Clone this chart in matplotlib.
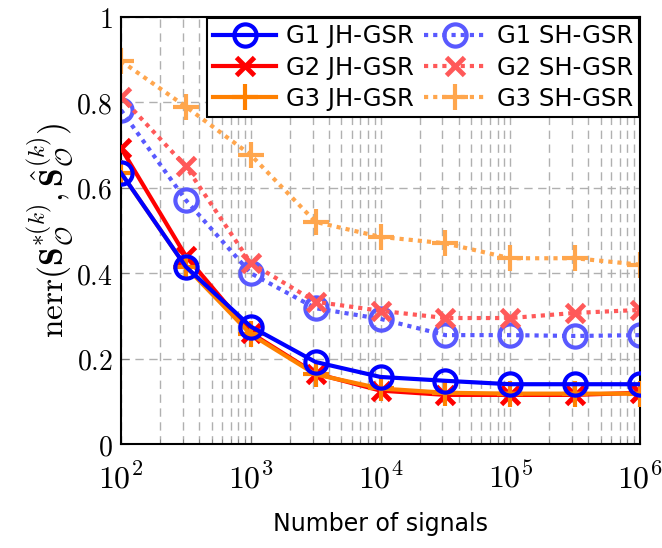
import matplotlib
matplotlib.use('Agg')
import matplotlib.pyplot as plt
import matplotlib.ticker as ticker
import numpy as np

plt.rcParams['mathtext.fontset'] = 'cm'
plt.rcParams['font.family'] = 'DejaVu Sans'

# number of signals
n_signals = [1e2, 10**2.5, 1e3, 10**3.5, 1e4, 10**4.5, 1e5, 10**5.5, 1e6]

g1_jh = [0.635, 0.415, 0.275, 0.192, 0.157, 0.148, 0.140, 0.140, 0.140]
g2_jh = [0.693, 0.440, 0.260, 0.165, 0.125, 0.115, 0.115, 0.115, 0.120]
g3_jh = [0.635, 0.415, 0.257, 0.163, 0.130, 0.120, 0.118, 0.118, 0.118]
g1_sh = [0.782, 0.571, 0.400, 0.318, 0.293, 0.255, 0.255, 0.253, 0.255]
g2_sh = [0.813, 0.650, 0.424, 0.333, 0.312, 0.295, 0.295, 0.307, 0.314]
g3_sh = [0.897, 0.790, 0.677, 0.520, 0.485, 0.470, 0.435, 0.435, 0.420]

blue = '#0000ff'
red = '#ff0000'
orange = '#ff8000'
lblue = '#5959ff'
lred = '#ff5959'
lorange = '#ffa64d'

fig = plt.figure(figsize=(6.62, 5.48), dpi=100)
ax = fig.add_axes([121 / 662, 1 - 444 / 548, (640 - 121) / 662, (444 - 17) / 548])

lw = 3.0
dots = (0, (1, 1.2))
ax.plot(n_signals, g1_jh, color=blue, lw=lw, marker='o', ms=16, mfc='none', mew=3, label='G1 JH-GSR', zorder=5)
ax.plot(n_signals, g2_jh, color=red, lw=lw, marker='x', ms=13, mew=3.5, label='G2 JH-GSR', zorder=4)
ax.plot(n_signals, g3_jh, color=orange, lw=lw, marker='+', ms=19, mew=3, label='G3 JH-GSR', zorder=4)
ax.plot(n_signals, g1_sh, color=lblue, lw=lw, ls=dots, marker='o', ms=16, mfc='none', mew=3, label='G1 SH-GSR')
ax.plot(n_signals, g2_sh, color=lred, lw=lw, ls=dots, marker='x', ms=13, mew=3.5, label='G2 SH-GSR')
ax.plot(n_signals, g3_sh, color=lorange, lw=lw, ls=dots, marker='+', ms=19, mew=3, label='G3 SH-GSR')

ax.set_xscale('log')
ax.set_xlim(1e2, 1e6)
ax.set_ylim(0, 1)
ax.set_yticks([0, 0.2, 0.4, 0.6, 0.8, 1.0])
ax.yaxis.set_major_formatter(ticker.FuncFormatter(lambda v, p: '$%g$' % round(v, 1)))
ax.xaxis.set_major_formatter(ticker.FuncFormatter(lambda v, p: '$10^{%d}$' % round(np.log10(v))))
ax.xaxis.set_minor_locator(ticker.LogLocator(base=10, subs=np.arange(2, 10), numticks=20))
ax.xaxis.set_minor_formatter(ticker.NullFormatter())

ax.grid(True, which='major', color='#b0b0b0', ls=(0, (6, 4)), lw=1)
ax.grid(True, which='minor', axis='x', color='#b0b0b0', ls=(0, (6, 4)), lw=1)
ax.tick_params(which='both', direction='in', colors='#808080', labelcolor='black')
ax.tick_params(axis='y', labelsize=20, pad=6)
ax.tick_params(axis='x', labelsize=23, pad=14)
ax.tick_params(which='major', length=6)
ax.tick_params(which='minor', length=3.5)
for s in ax.spines.values():
    s.set_linewidth(1.5)

ax.set_xlabel('Number of signals', fontsize=17, labelpad=12)
ax.set_ylabel(r'$\mathrm{nerr}(\mathbf{S}^{*(k)}_{\mathcal{O}},\hat{\mathbf{S}}^{(k)}_{\mathcal{O}})$', fontsize=24, labelpad=0)

handles, labels = ax.get_legend_handles_labels()
leg = ax.legend(handles, labels, ncol=2, loc='upper right', fontsize=17.5, fancybox=False,
                edgecolor='black', framealpha=1, borderaxespad=0.05, handlelength=2.6,
                columnspacing=0.4, handletextpad=0.4, labelspacing=0.3, borderpad=0.25)
leg.get_frame().set_linewidth(1.5)

fig.savefig('out.png', dpi=100)
